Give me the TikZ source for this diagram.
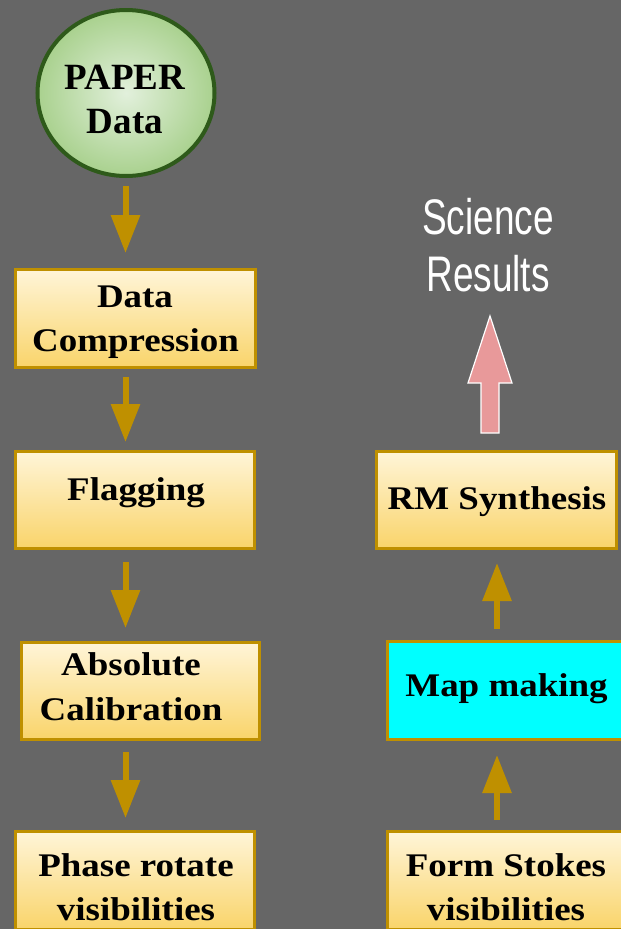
\documentclass[tikz,border=0pt]{standalone}
\usepackage{fontspec}
\setmainfont{Liberation Serif}
\newfontfamily\boxfont{Liberation Serif}[FakeStretch=1.12]
\newfontfamily\scifont{Liberation Sans}[FakeStretch=0.74]
\usetikzlibrary{arrows.meta,shapes.geometric,calc}
\definecolor{bgc}{HTML}{666666}
\definecolor{gold}{HTML}{BF9000}
\definecolor{boxtop}{HTML}{FFF5D8}
\definecolor{boxbot}{HTML}{F9D46A}
\definecolor{ellborder}{HTML}{2E5A1A}
\definecolor{ellin}{HTML}{E2F0DC}
\definecolor{ellout}{HTML}{A9D18E}
\definecolor{pinkc}{HTML}{E8999A}
\definecolor{cyanc}{HTML}{00FFFF}
\tikzset{
  procbox/.style={draw=gold, line width=3pt, top color=boxtop, bottom color=boxbot, rectangle, inner sep=0pt},
  cyanbox/.style={draw=gold, line width=3pt, fill=cyanc, rectangle, inner sep=0pt},
  txt/.style={font=\boxfont\bfseries\fontsize{33}{40}\selectfont, anchor=base, inner sep=0pt, text=black},
  ptxt/.style={font=\rmfamily\bfseries\fontsize{37}{44}\selectfont, anchor=base, inner sep=0pt, text=black},
  scitxt/.style={font=\scifont\fontsize{50}{57}\selectfont, anchor=base, inner sep=0pt, text=white},
  flow/.style={draw=gold, line width=6pt, -{Triangle[width=28pt,length=38pt]}}
}
\begin{document}
\begin{tikzpicture}[x=1pt,y=-1pt]
\fill[bgc] (0,0) rectangle (621,929);
\useasboundingbox (0,0) rectangle (621,929);
\coordinate (colL) at (125.5,0);
\coordinate (colR) at (497,0);
% ellipse
\node[ellipse, draw=ellborder, line width=4pt, inner color=ellin, outer color=ellout,
      minimum width=177pt, minimum height=166pt, inner sep=0pt] (paper) at (126,93) {};
\node[ptxt] (paperT1) at (125,89) {PAPER};
\node[ptxt] (paperT2) at (125,133) {Data};
% left column boxes
\node[procbox, minimum width=240pt, minimum height=98pt] (dc) at (135.5,318.5) {};
\node[txt] (dcT1) at (135,307) {Data};
\node[txt] (dcT2) at (135.5,351) {Compression};
\node[procbox, minimum width=239pt, minimum height=97pt] (flag) at (135,500) {};
\node[txt] (flagT) at (136,500) {Flagging};
\node[procbox, minimum width=238pt, minimum height=97pt] (abs) at (140.5,691) {};
\node[txt] (absT1) at (131,675) {Absolute};
\node[txt] (absT2) at (131,720) {Calibration};
\node[procbox, minimum width=239pt, minimum height=98pt] (phase) at (135,880.5) {};
\node[txt] (phaseT1) at (136,876) {Phase rotate};
\node[txt] (phaseT2) at (136,920) {visibilities};
% right column boxes
\node[procbox, minimum width=240pt, minimum height=97pt] (rm) at (496.5,500) {};
\node[txt] (rmT) at (497,509) {RM Synthesis};
\node[cyanbox, minimum width=239pt, minimum height=98pt] (map) at (507,690.5) {};
\node[txt] (mapT) at (506.5,696) {Map making};
\node[procbox, minimum width=239pt, minimum height=98pt] (stokes) at (507,880.5) {};
\node[txt] (stokesT1) at (506,876) {Form Stokes};
\node[txt] (stokesT2) at (506,920) {visibilities};
% science results
\node[scitxt] (sci1) at (488,234) {Science};
\node[scitxt] (sci2) at (488,291) {Results};
% arrows
\draw[flow, shorten <=8pt, shorten >=15pt] (paper.south -| colL) -- (dc.north -| colL);
\draw[flow, shorten <=8pt, shorten >=8pt] (dc.south -| colL) -- (flag.north -| colL);
\draw[flow, shorten <=12pt, shorten >=13pt] (flag.south -| colL) -- (abs.north -| colL);
\draw[flow, shorten <=11pt, shorten >=12pt] (abs.south -| colL) -- (phase.north -| colL);
\draw[flow, shorten <=10pt, shorten >=14pt] (stokes.north -| colR) -- (map.south -| colR);
\draw[flow, shorten <=11pt, shorten >=13pt] (map.north -| colR) -- (rm.south -| colR);
% pink block arrow
\coordinate (pk) at ($(rm.north -| 490,0)+(0,-17)$);
\draw[fill=pinkc, draw=white, line width=1.2pt, line join=miter]
  (pk) ++(-9,0) -- ++(0,-50) -- ++(-13,0) -- ++(22,-67) -- ++(22,67) -- ++(-13,0) -- ++(0,50) -- cycle;
\end{tikzpicture}
\end{document}
